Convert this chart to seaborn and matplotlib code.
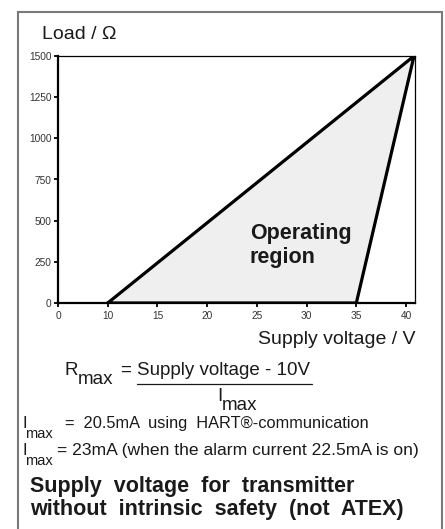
"""Load diagram: permissible load vs. supply voltage (non-ATEX transmitter)."""

import matplotlib
matplotlib.use("Agg")
import matplotlib.pyplot as plt
from matplotlib.patches import Rectangle
from matplotlib.lines import Line2D
import seaborn as sns

# --- data ------------------------------------------------------------------
# corners of the operating region (supply voltage V, load Ohm)
region_voltage = [10, 40.8, 35, 10]
region_load = [0, 1500, 0, 0]

# the x axis is broken: its first tick is labelled "0" but sits where 5 V would be
x_ticks = [5, 10, 15, 20, 25, 30, 35, 40]
x_tick_labels = ["0", "10", "15", "20", "25", "30", "35", "40"]
y_ticks = [0, 250, 500, 750, 1000, 1250, 1500]
y_tick_labels = ["0", "250", "500", "750", "1000", "1250", "1500"]

W, H = 445, 529
TEXT = "#1a1a1a"

sns.set_theme(style="white")
plt.rcParams["font.family"] = ["Liberation Sans", "DejaVu Sans"]


def px(x, y):
    """Pixel position (from top-left) -> figure fraction."""
    return x / W, 1 - y / H


fig = plt.figure(figsize=(W / 100, H / 100), dpi=100)
fig.patch.set_facecolor("white")

# outer frame
fig.patches.append(Rectangle(px(18, 560), (442 - 18) / W, (560 - 12) / H,
                             transform=fig.transFigure, fill=False,
                             edgecolor="#7a7a7a", linewidth=1.5))

ax = fig.add_axes([58 / W, (H - 303) / H, (415 - 58) / W, (303 - 56) / H])

# region
ax.fill(region_voltage, region_load, color="#efefef", zorder=1)
sns.lineplot(x=region_voltage, y=region_load, sort=False, estimator=None,
             color="black", linewidth=2.3, ax=ax, zorder=3)
ax.text(24.3, 349, "Operating\nregion", fontsize=15.5, fontweight="bold",
        color=TEXT, ha="left", va="center", linespacing=1.2)

ax.set_xlim(5, 40.9)
ax.set_ylim(0, 1500)
ax.set_xticks(x_ticks)
ax.set_xticklabels(x_tick_labels)
ax.set_yticks(y_ticks)
ax.set_yticklabels(y_tick_labels)
ax.tick_params(axis="both", direction="out", length=3, width=1.3,
               labelsize=7.3, colors="black", labelcolor="#333333")
ax.tick_params(axis="x", pad=3)
ax.tick_params(axis="y", pad=1.5)
ax.tick_params(bottom=True, left=True)
ax.set_xlabel("")
ax.set_ylabel("")
for side in ["left", "bottom"]:
    ax.spines[side].set_linewidth(1.6)
    ax.spines[side].set_color("black")
for side in ["top", "right"]:
    ax.spines[side].set_linewidth(0.9)
    ax.spines[side].set_color("black")
ax.set_facecolor("white")

# axis titles
fig.text(*px(42, 39), "Load / Ω", fontsize=14, color=TEXT, ha="left", va="baseline")
fig.text(*px(415, 344), "Supply voltage / V", fontsize=14, color=TEXT,
         ha="right", va="baseline")

# R_max formula
fs = 13.5
fig.text(*px(65, 375), "R", fontsize=fs, color=TEXT, va="baseline")
fig.text(*px(78, 384), "max", fontsize=fs, color=TEXT, va="baseline")
fig.text(*px(120, 375), "=", fontsize=fs, color=TEXT, va="baseline")
fig.text(*px(137, 375), "Supply voltage - 10V", fontsize=fs, color=TEXT, va="baseline")
fig.lines.append(Line2D([137 / W, 312 / W], [1 - 384 / H, 1 - 384 / H],
                        transform=fig.transFigure, color=TEXT, linewidth=0.9))
fig.text(*px(217, 401), "I", fontsize=fs, color=TEXT, va="baseline")
fig.text(*px(222, 410), "max", fontsize=fs, color=TEXT, va="baseline")

# current notes
fig.text(*px(22, 428), "I", fontsize=12, color=TEXT, va="baseline")
fig.text(*px(25, 438), "max", fontsize=10.5, color=TEXT, va="baseline")
fig.text(*px(65, 428), "=  20.5mA  using  HART®-communication", fontsize=11.8,
         color=TEXT, va="baseline")
fig.text(*px(22, 455), "I", fontsize=12, color=TEXT, va="baseline")
fig.text(*px(25, 465), "max", fontsize=10.5, color=TEXT, va="baseline")
fig.text(*px(57, 455), "= 23mA (when the alarm current 22.5mA is on)", fontsize=12.6,
         color=TEXT, va="baseline")

# caption
fig.text(*px(30, 492), "Supply  voltage  for  transmitter", fontsize=15.5,
         fontweight="bold", color=TEXT, va="baseline")
fig.text(*px(30, 515), "without  intrinsic  safety  (not  ATEX)", fontsize=15.5,
         fontweight="bold", color=TEXT, va="baseline")

fig.savefig("out.png", dpi=100)
